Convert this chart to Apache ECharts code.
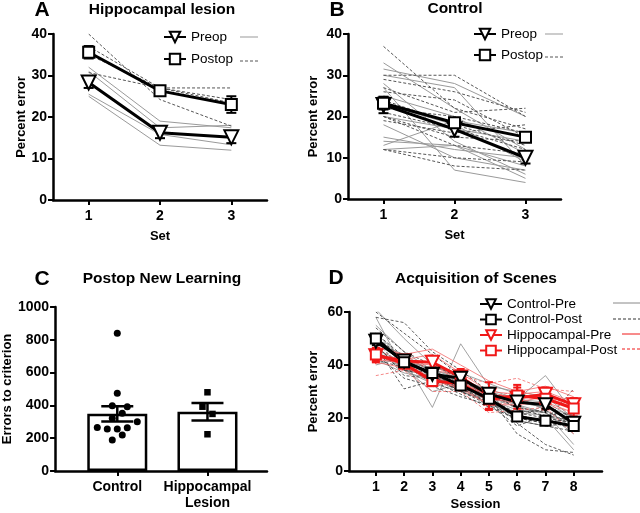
<!DOCTYPE html>
<html>
<head>
<meta charset="utf-8">
<script src="https://cdn.jsdelivr.net/npm/echarts@6/dist/echarts.min.js"></script>
<style>
  html, body { margin: 0; padding: 0; background: #fff; }
  #chart { width: 640px; height: 513px; }
</style>
</head>
<body>
<div id="chart"></div>
<script>
// ---- data ----
const sets = [1, 2, 3];
const sessions = [1, 2, 3, 4, 5, 6, 7, 8];

// A: hippocampal lesion, percent error per set
const aPreMean = [28.3, 16.2, 15.1];
const aPreSem = [1.3, 1.3, 1.4];
const aPostMean = [35.6, 26.3, 23.0];
const aPostSem = [1.5, 0.6, 2.0];
const aPreRats = [[32, 19, 17.4], [31, 17.4, 18], [25, 13.2, 12], [25.5, 15.8, 13.3]];
const aPostRats = [[40, 24.2, 17.8], [37, 27, 24.2], [35, 27, 23.4], [30.7, 27, 27]];

// B: control, percent error per set
const bPreMean = [22.8, 16.9, 10.0];
const bPreSem = [2.0, 1.8, 1.4];
const bPostMean = [23.2, 18.5, 15.0];
const bPostSem = [1.5, 1.0, 0.5];
const bPreRats = [
  [33, 22, 12], [31.5, 28, 20], [30, 27, 8], [28, 14, 6], [27, 7, 4], [25, 20, 11], [23, 18, 9],
  [20, 17, 14], [18, 10, 7], [15, 12, 10], [14, 13, 8], [13, 19, 16], [12, 13, 5]
];
const bPostRats = [
  [37, 22, 17], [30, 30, 20], [29, 26, 21], [27, 21, 22], [26, 24, 15], [24, 18, 13], [22, 20, 16],
  [21, 17, 12], [20, 15, 14], [20, 13, 11], [19, 16, 18], [12, 10, 9], [12, 8, 7]
];

// C: errors to criterion
const groupNames = ['Control', 'Hippocampal\nLesion'];
const cControl = [840, 474, 398, 392, 352, 321, 301, 266, 256, 256, 264, 220, 189];
const cHippo = [480, 392, 348, 224];
const cControlJitter = [0, 0, -5, 10, 5, -5, 20, -20, -10, 0, 10, 5, -5];
const cHippoJitter = [0, -5, 5, 0];

// D: acquisition of scenes, percent error per session
const dCtlPreMean = [49, 41.5, 36.5, 35, 29, 26, 25, 18];
const dCtlPreSem = [1.5, 1.2, 1.3, 1.5, 1.5, 1.5, 1.5, 1.5];
const dCtlPostMean = [50, 41, 37, 32.3, 27.3, 20.6, 19, 17];
const dCtlPostSem = [1.5, 1.2, 1.3, 1.4, 1.5, 1.5, 1.4, 1.5];
const dHipPreMean = [43.5, 41.5, 41, 35.5, 28.5, 27.5, 29, 25];
const dHipPreSem = [2.5, 1.5, 2, 3, 5, 4, 2.5, 2.5];
const dHipPostMean = [44, 40.5, 34, 33, 27, 28.5, 27.3, 23.6];
const dHipPostSem = [2.5, 1.5, 2, 2, 4, 4, 4, 3];
const dCtlPreRats = [
  [61, 50, 40, 35, 30, 25, 20, 8], [55, 45, 38, 36, 28, 24, 22, 15], [52, 42, 24, 48, 32, 30, 28, 20],
  [50, 40, 35, 33, 27, 26, 24, 19], [48, 44, 37, 34, 31, 27, 36, 22], [47, 38, 36, 30, 26, 20, 25, 17],
  [46, 41, 39, 37, 33, 29, 27, 24], [45, 40, 34, 32, 25, 22, 21, 18], [44, 39, 30, 33, 24, 28, 23, 16],
  [43, 42, 38, 35, 30, 27, 26, 20], [42, 37, 35, 34, 28, 25, 22, 14], [40, 43, 36, 31, 29, 26, 24, 21],
  [58, 38, 33, 30, 27, 23, 22, 10]
];
const dCtlPostRats = [
  [58, 56, 45, 38, 30, 18, 10, 6], [60, 52, 44, 36, 28, 14, 8, 7], [54, 45, 40, 35, 27, 20, 18, 17],
  [52, 43, 38, 33, 26, 22, 20, 18], [50, 40, 36, 32, 28, 21, 19, 16], [49, 38, 37, 31, 26, 19, 17, 15],
  [48, 36, 35, 30, 25, 17, 21, 19], [47, 31, 34, 29, 24, 20, 18, 20], [46, 40, 33, 34, 29, 24, 22, 21],
  [45, 38, 36, 30, 31, 23, 21, 22], [44, 35, 32, 28, 25, 19, 17, 18], [42, 39, 35, 31, 27, 22, 23, 17],
  [51, 42, 36, 30, 26, 21, 19, 31]
];
const dHipPreRats = [
  [47, 44, 46, 40, 34, 30, 32, 28], [44, 42, 44, 37, 30, 29, 30, 26],
  [42, 41, 40, 34, 27, 26, 28, 24], [41, 39, 35, 31, 25, 25, 26, 22]
];
const dHipPostRats = [
  [48, 43, 38, 36, 33, 35, 31, 30], [46, 41, 35, 34, 28, 30, 28, 25],
  [43, 40, 33, 32, 25, 26, 25, 22], [36, 38, 30, 30, 22, 23, 24, 14]
];

// ---- helpers ----
const FONT = 'Liberation Sans, Arial, sans-serif';
const RED = '#f01818';
const mean = a => a.reduce((s, v) => s + v, 0) / a.length;
const sem = a => {
  const m = mean(a);
  return Math.sqrt(a.reduce((s, v) => s + (v - m) * (v - m), 0) / (a.length - 1) / a.length);
};

function ratLines(rows, xs, idx, color, dashed, width) {
  return rows.map(r => ({
    type: 'line', xAxisIndex: idx, yAxisIndex: idx, silent: true, z: 1,
    data: r.map((v, i) => [xs[i], v]), symbol: 'none',
    lineStyle: { color: color, width: width, type: dashed ? [3, 2] : 'solid' }
  }));
}

function meanLine(name, means, xs, idx, color, shape, size) {
  return {
    name: name, type: 'line', xAxisIndex: idx, yAxisIndex: idx, z: 6,
    data: means.map((v, i) => [xs[i], v]),
    symbol: shape === 'tri' ? 'triangle' : 'rect',
    symbolRotate: shape === 'tri' ? 180 : 0,
    symbolSize: size,
    itemStyle: { color: '#fff', borderColor: color, borderWidth: 2 },
    lineStyle: { color: color, width: 3 }
  };
}

function errBars(means, sems, xs, idx, color, capW, lw) {
  return {
    type: 'custom', xAxisIndex: idx, yAxisIndex: idx, z: 5, silent: true,
    data: means.map((m, i) => [xs[i], m - sems[i], m + sems[i]]),
    renderItem: (params, api) => {
      const lo = api.coord([api.value(0), api.value(1)]);
      const hi = api.coord([api.value(0), api.value(2)]);
      const st = { stroke: color, lineWidth: lw };
      const h = capW / 2;
      return {
        type: 'group', children: [
          { type: 'line', shape: { x1: lo[0], y1: lo[1], x2: hi[0], y2: hi[1] }, style: st },
          { type: 'line', shape: { x1: lo[0] - h, y1: lo[1], x2: lo[0] + h, y2: lo[1] }, style: st },
          { type: 'line', shape: { x1: hi[0] - h, y1: hi[1], x2: hi[0] + h, y2: hi[1] }, style: st }
        ]
      };
    }
  };
}

function xAxisOf(idx, min, max, ticks, name, nameGap, fmt) {
  return {
    type: 'value', gridIndex: idx, min: min, max: max, name: name,
    nameLocation: 'middle', nameGap: nameGap,
    nameTextStyle: { color: '#000', fontWeight: 'bold', fontSize: 13, fontFamily: FONT, lineHeight: 15 },
    axisLine: { onZero: false, lineStyle: { color: '#000', width: 2.5 } },
    axisTick: { show: true, length: 5, customValues: ticks, lineStyle: { color: '#000', width: 2 } },
    axisLabel: {
      customValues: ticks, margin: 8, color: '#000', fontWeight: 'bold', fontSize: 14,
      fontFamily: FONT, lineHeight: 16, formatter: fmt || (v => String(v))
    },
    splitLine: { show: false }
  };
}

function yAxisOf(idx, max, interval, name, nameGap) {
  return {
    type: 'value', gridIndex: idx, min: 0, max: max, interval: interval, name: name,
    nameLocation: 'middle', nameGap: nameGap,
    nameTextStyle: { color: '#000', fontWeight: 'bold', fontSize: 13, fontFamily: FONT },
    axisLine: { show: true, lineStyle: { color: '#000', width: 2.5 } },
    axisTick: { show: true, length: 5, lineStyle: { color: '#000', width: 2 } },
    axisLabel: {
      margin: 6, color: '#000', fontWeight: 'bold', fontSize: 14, fontFamily: FONT,
      formatter: v => String(v)
    },
    splitLine: { show: false }
  };
}

const titleStyle = { color: '#000', fontWeight: 'bold', fontSize: 15.5, fontFamily: FONT };
const letterStyle = { color: '#000', fontWeight: 'bold', fontSize: 21, fontFamily: FONT };
const legendText = { color: '#000', fontSize: 13.5, fontFamily: FONT };

const chart = echarts.init(document.getElementById('chart'), null, { renderer: 'canvas' });

const ctlM = mean(cControl), hipM = mean(cHippo);

const option = {
  backgroundColor: '#fff',
  animation: false,
  title: [
    { text: 'A', left: 42, top: 0, textAlign: 'center', padding: 0, textStyle: letterStyle },
    { text: 'Hippocampal lesion', left: 162, top: 2, textAlign: 'center', padding: 0, textStyle: titleStyle },
    { text: 'B', left: 337, top: 0, textAlign: 'center', padding: 0, textStyle: letterStyle },
    { text: 'Control', left: 455, top: 1, textAlign: 'center', padding: 0, textStyle: titleStyle },
    { text: 'C', left: 42, top: 269, textAlign: 'center', padding: 0, textStyle: letterStyle },
    { text: 'Postop New Learning', left: 162, top: 271, textAlign: 'center', padding: 0, textStyle: titleStyle },
    { text: 'D', left: 336, top: 268, textAlign: 'center', padding: 0, textStyle: letterStyle },
    { text: 'Acquisition of Scenes', left: 476, top: 271, textAlign: 'center', padding: 0, textStyle: titleStyle }
  ],
  legend: [
    {
      data: ['Preop', 'Postop'], orient: 'vertical', left: 163, top: 30, padding: 0,
      itemWidth: 22, itemHeight: 13, itemGap: 8, selectedMode: false, textStyle: legendText
    },
    {
      data: ['Preop', 'Postop'], orient: 'vertical', left: 473, top: 27, padding: 0,
      itemWidth: 22, itemHeight: 13, itemGap: 7, selectedMode: false, textStyle: legendText
    },
    {
      data: ['Control-Pre', 'Control-Post', 'Hippocampal-Pre', 'Hippocampal-Post'],
      orient: 'vertical', left: 479, top: 297, padding: 0,
      itemWidth: 22, itemHeight: 12, itemGap: 1.5, selectedMode: false, textStyle: legendText
    }
  ],
  grid: [
    { left: 53, top: 34, width: 214, height: 166 },
    { left: 348, top: 34, width: 213, height: 165 },
    { left: 53, top: 307, width: 214, height: 164 },
    { left: 349, top: 312, width: 253, height: 162 }
  ],
  xAxis: [
    xAxisOf(0, 0.5, 3.5, sets, 'Set', 29),
    xAxisOf(1, 0.5, 3.5, sets, 'Set', 29),
    xAxisOf(2, 0.31, 2.66, [1, 2], '', 20, v => groupNames[v - 1]),
    xAxisOf(3, 0.05, 9, sessions, 'Session', 26)
  ],
  yAxis: [
    yAxisOf(0, 40, 10, 'Percent error', 25),
    yAxisOf(1, 40, 10, 'Percent error', 28),
    yAxisOf(2, 1000, 200, 'Errors to criterion', 39),
    yAxisOf(3, 60, 20, 'Percent error', 29)
  ],
  graphic: [
    { type: 'line', shape: { x1: 240, y1: 37, x2: 258, y2: 37 }, style: { stroke: '#999', lineWidth: 1 } },
    { type: 'line', shape: { x1: 240, y1: 61, x2: 258, y2: 61 }, style: { stroke: '#555', lineWidth: 1, lineDash: [3, 2] } },
    { type: 'line', shape: { x1: 545, y1: 34, x2: 563, y2: 34 }, style: { stroke: '#999', lineWidth: 1 } },
    { type: 'line', shape: { x1: 545, y1: 57, x2: 563, y2: 57 }, style: { stroke: '#555', lineWidth: 1, lineDash: [3, 2] } },
    { type: 'line', shape: { x1: 613, y1: 303, x2: 640, y2: 303 }, style: { stroke: '#888', lineWidth: 1 } },
    { type: 'line', shape: { x1: 613, y1: 319, x2: 640, y2: 319 }, style: { stroke: '#333', lineWidth: 1, lineDash: [3, 2] } },
    { type: 'line', shape: { x1: 622, y1: 334, x2: 640, y2: 334 }, style: { stroke: RED, lineWidth: 1 } },
    { type: 'line', shape: { x1: 622, y1: 349, x2: 640, y2: 349 }, style: { stroke: RED, lineWidth: 1, lineDash: [3, 2] } }
  ],
  series: [
    // A
    ...ratLines(aPreRats, sets, 0, '#9a9a9a', false, 1),
    ...ratLines(aPostRats, sets, 0, '#555', true, 1),
    errBars(aPreMean, aPreSem, sets, 0, '#000', 10, 2),
    errBars(aPostMean, aPostSem, sets, 0, '#000', 10, 2),
    meanLine('Preop', aPreMean, sets, 0, '#000', 'tri', 14),
    meanLine('Postop', aPostMean, sets, 0, '#000', 'rect', 11),
    // B
    ...ratLines(bPreRats, sets, 1, '#9a9a9a', false, 1),
    ...ratLines(bPostRats, sets, 1, '#555', true, 1),
    errBars(bPreMean, bPreSem, sets, 1, '#000', 10, 2),
    errBars(bPostMean, bPostSem, sets, 1, '#000', 10, 2),
    meanLine('Preop', bPreMean, sets, 1, '#000', 'tri', 14),
    meanLine('Postop', bPostMean, sets, 1, '#000', 'rect', 11),
    // C
    {
      type: 'bar', xAxisIndex: 2, yAxisIndex: 2, barWidth: 60, z: 2,
      data: [[1, ctlM], [2, hipM]],
      itemStyle: { color: '#fff', borderColor: '#000', borderWidth: 2.5 }
    },
    {
      type: 'scatter', xAxisIndex: 2, yAxisIndex: 2, symbol: 'circle', symbolSize: 7, z: 4,
      data: cControl.map((v, i) => ({ value: [1, v], symbolOffset: [cControlJitter[i], 0] })),
      itemStyle: { color: '#000', opacity: 1 }
    },
    {
      type: 'scatter', xAxisIndex: 2, yAxisIndex: 2, symbol: 'rect', symbolSize: 6.5, z: 4,
      data: cHippo.map((v, i) => ({ value: [2, v], symbolOffset: [cHippoJitter[i], 0] })),
      itemStyle: { color: '#000', opacity: 1 }
    },
    errBars([ctlM, hipM], [sem(cControl), sem(cHippo)], [1, 2], 2, '#000', 32, 2.5),
    // D
    ...ratLines(dCtlPreRats, sessions, 3, '#8a8a8a', false, 0.8),
    ...ratLines(dCtlPostRats, sessions, 3, '#333', true, 0.8),
    ...ratLines(dHipPreRats, sessions, 3, '#f26a6a', false, 0.8),
    ...ratLines(dHipPostRats, sessions, 3, '#f26a6a', true, 0.8),
    errBars(dHipPreMean, dHipPreSem, sessions, 3, RED, 8, 2),
    errBars(dHipPostMean, dHipPostSem, sessions, 3, RED, 8, 2),
    errBars(dCtlPreMean, dCtlPreSem, sessions, 3, '#000', 8, 2),
    errBars(dCtlPostMean, dCtlPostSem, sessions, 3, '#000', 8, 2),
    meanLine('Hippocampal-Pre', dHipPreMean, sessions, 3, RED, 'tri', 13),
    meanLine('Hippocampal-Post', dHipPostMean, sessions, 3, RED, 'rect', 10),
    meanLine('Control-Pre', dCtlPreMean, sessions, 3, '#000', 'tri', 13),
    meanLine('Control-Post', dCtlPostMean, sessions, 3, '#000', 'rect', 10)
  ]
};

chart.setOption(option);
</script>
</body>
</html>
